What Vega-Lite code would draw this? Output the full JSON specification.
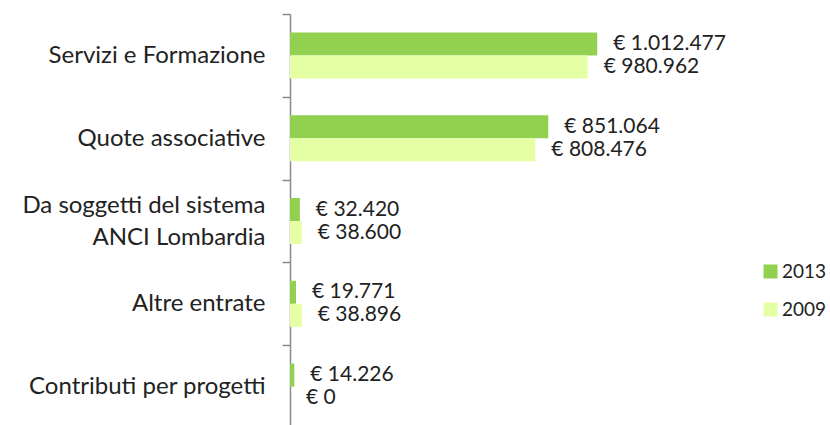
{
  "$schema": "https://vega.github.io/schema/vega-lite/v6.json",
  "width": 440,
  "height": 414,
  "autosize": {"type": "none"},
  "padding": {"left": 290, "top": 14, "right": 100, "bottom": 0},
  "config": {
    "view": {"stroke": null},
    "font": "Lato",
    "locale": {"number": {"decimal": ",", "thousands": ".", "grouping": [3], "currency": ["€ ", ""]}}
  },
  "data": {
    "values": [
      {"categoria": "Servizi e Formazione", "anno": "2013", "valore": 1012477},
      {"categoria": "Servizi e Formazione", "anno": "2009", "valore": 980962},
      {"categoria": "Quote associative", "anno": "2013", "valore": 851064},
      {"categoria": "Quote associative", "anno": "2009", "valore": 808476},
      {"categoria": "Da soggetti del sistema ANCI Lombardia", "anno": "2013", "valore": 32420},
      {"categoria": "Da soggetti del sistema ANCI Lombardia", "anno": "2009", "valore": 38600},
      {"categoria": "Altre entrate", "anno": "2013", "valore": 19771},
      {"categoria": "Altre entrate", "anno": "2009", "valore": 38896},
      {"categoria": "Contributi per progetti", "anno": "2013", "valore": 14226},
      {"categoria": "Contributi per progetti", "anno": "2009", "valore": 0}
    ]
  },
  "encoding": {
    "y": {
      "field": "categoria",
      "type": "nominal",
      "sort": ["Servizi e Formazione", "Quote associative", "Da soggetti del sistema ANCI Lombardia", "Altre entrate", "Contributi per progetti"],
      "scale": {"paddingInner": 0, "paddingOuter": 0},
      "axis": {
        "title": null,
        "domainColor": "#8a8a8a",
        "domainWidth": 1.5,
        "tickBand": "extent",
        "tickColor": "#8a8a8a",
        "tickWidth": 1.5,
        "tickSize": 8,
        "labelFontSize": 24,
        "labelColor": "#222222",
        "labelPadding": 17,
        "labelLimit": 300,
        "labelLineHeight": 32,
        "labelOffset": {"condition": {"test": "datum.value == 'Da soggetti del sistema ANCI Lombardia'", "value": -16}, "value": 0},
        "labelExpr": "datum.value == 'Da soggetti del sistema ANCI Lombardia' ? ['Da soggetti del sistema', 'ANCI Lombardia\u00a0\u00a0\u00a0\u00a0\u00a0\u00a0\u00a0'] : datum.value"
      }
    },
    "yOffset": {
      "field": "anno",
      "type": "nominal",
      "sort": ["2013", "2009"],
      "scale": {"paddingInner": 0, "paddingOuter": 0.8}
    },
    "x": {
      "field": "valore",
      "type": "quantitative",
      "scale": {"domain": [0, 1450000]},
      "axis": null
    }
  },
  "layer": [
    {
      "mark": {"type": "bar"},
      "encoding": {
        "color": {
          "field": "anno",
          "type": "nominal",
          "scale": {"domain": ["2013", "2009"], "range": ["#92D050", "#E5FFA5"]},
          "legend": {
            "title": null,
            "orient": "none",
            "legendX": 471,
            "legendY": 248,
            "symbolType": "square",
            "symbolSize": 196,
            "symbolStrokeWidth": 0,
            "labelFontSize": 19,
            "labelColor": "#222222",
            "labelOffset": 2,
            "rowPadding": 18
          }
        }
      }
    },
    {
      "mark": {"type": "text", "align": "left", "baseline": "middle", "dx": 16, "fontSize": 21, "color": "#222222"},
      "encoding": {
        "text": {"field": "valore", "type": "quantitative", "format": "$,"}
      }
    }
  ]
}
